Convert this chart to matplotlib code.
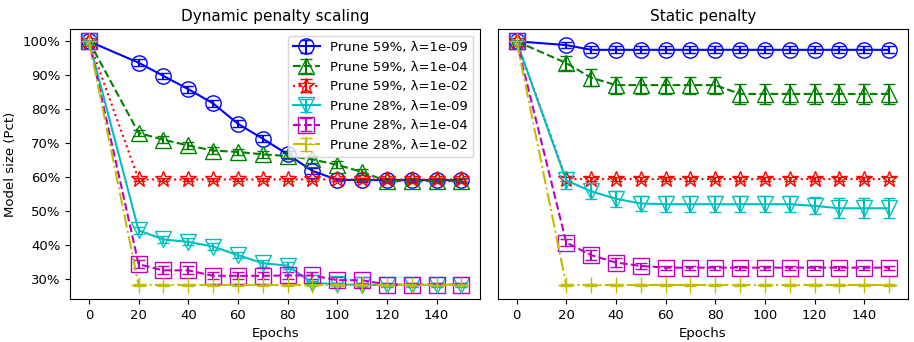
import numpy as np
import matplotlib
matplotlib.use("Agg")
import matplotlib.pyplot as plt
from matplotlib.ticker import PercentFormatter

epochs = [0, 20, 30, 40, 50, 60, 70, 80, 90, 100, 110, 120, 130, 140, 150]

labels = ["Prune 59%, λ=1e-09", "Prune 59%, λ=1e-04", "Prune 59%, λ=1e-02",
          "Prune 28%, λ=1e-09", "Prune 28%, λ=1e-04", "Prune 28%, λ=1e-02"]
colors = ["b", "g", "r", "c", "m", "y"]
markers = ["o", "^", "*", "v", "s", "+"]
styles = ["-", "--", ":", "-", "--", "-."]

# dynamic penalty scaling (left)
dyn_mean = [
    [100, 93.7, 89.8, 85.9, 81.7, 75.7, 71.3, 66.7, 61.8, 59.2, 59.1, 59.1, 59.1, 59.1, 59.1],
    [100, 73.0, 71.0, 69.3, 67.8, 67.4, 66.7, 66.2, 65.2, 63.6, 61.5, 58.8, 58.8, 58.8, 58.8],
    [100, 59.3, 59.3, 59.3, 59.3, 59.3, 59.3, 59.3, 59.3, 59.3, 59.3, 59.3, 59.3, 59.3, 59.3],
    [100, 44.3, 41.6, 40.9, 39.5, 37.0, 34.6, 33.9, 28.8, 28.4, 28.2, 28.2, 28.2, 28.2, 28.2],
    [100, 34.3, 32.5, 32.5, 30.9, 30.9, 30.9, 31.0, 31.0, 29.6, 29.6, 28.3, 28.3, 28.3, 28.3],
    [100, 28.2, 28.2, 28.2, 28.2, 28.2, 28.2, 28.2, 28.2, 28.2, 28.2, 28.2, 28.2, 28.2, 28.2],
]
dyn_err = [
    [0, 1.0, 1.0, 1.0, 1.0, 1.0, 1.0, 1.0, 1.0, 0.5, 0.5, 0.5, 0.5, 0.5, 0.5],
    [0, 1.0, 1.0, 1.0, 1.0, 1.0, 1.0, 1.0, 1.0, 1.0, 1.0, 0.5, 0.5, 0.5, 0.5],
    [0, 0.5, 0.5, 0.5, 0.5, 0.5, 0.5, 0.5, 0.5, 0.5, 0.5, 0.5, 0.5, 0.5, 0.5],
    [0, 1.0, 1.0, 1.0, 1.0, 1.0, 1.0, 1.0, 0.5, 0.5, 0.5, 0.5, 0.5, 0.5, 0.5],
    [0, 1.2, 1.2, 1.2, 1.0, 1.0, 1.0, 1.0, 1.0, 0.8, 0.8, 0.5, 0.5, 0.5, 0.5],
    [0, 0.3, 0.3, 0.3, 0.3, 0.3, 0.3, 0.3, 0.3, 0.3, 0.3, 0.3, 0.3, 0.3, 0.3],
]

# static penalty (right)
sta_mean = [
    [100, 98.9, 97.5, 97.5, 97.5, 97.5, 97.5, 97.5, 97.5, 97.5, 97.5, 97.5, 97.5, 97.5, 97.5],
    [100, 93.6, 89.3, 87.1, 87.1, 87.1, 87.1, 87.1, 84.5, 84.5, 84.5, 84.5, 84.5, 84.5, 84.5],
    [100, 59.4, 59.4, 59.4, 59.4, 59.4, 59.4, 59.4, 59.4, 59.4, 59.4, 59.4, 59.4, 59.4, 59.4],
    [100, 59.0, 55.8, 53.6, 52.2, 52.0, 52.0, 52.0, 52.0, 52.0, 52.0, 51.5, 50.8, 50.8, 50.8],
    [100, 40.7, 37.0, 34.8, 33.8, 33.3, 33.3, 33.3, 33.3, 33.3, 33.3, 33.3, 33.3, 33.3, 33.3],
    [100, 28.2, 28.2, 28.2, 28.2, 28.2, 28.2, 28.2, 28.2, 28.2, 28.2, 28.2, 28.2, 28.2, 28.2],
]
sta_err = [
    [0, 1.0, 1.0, 1.0, 1.0, 1.0, 1.0, 1.0, 1.0, 1.0, 1.0, 1.0, 1.0, 1.0, 1.0],
    [0, 2.0, 2.5, 2.5, 2.5, 2.5, 2.5, 2.5, 3.0, 3.0, 3.0, 3.0, 3.0, 3.0, 3.0],
    [0, 0.5, 0.5, 0.5, 0.5, 0.5, 0.5, 0.5, 0.5, 0.5, 0.5, 0.5, 0.5, 0.5, 0.5],
    [0, 2.5, 2.3, 2.3, 2.3, 2.3, 2.3, 2.3, 2.3, 2.3, 2.3, 2.5, 2.9, 2.9, 2.9],
    [0, 1.0, 1.5, 1.2, 1.0, 0.6, 0.6, 0.6, 0.6, 0.6, 0.6, 0.6, 0.6, 0.6, 0.6],
    [0, 0.3, 0.3, 0.3, 0.3, 0.3, 0.3, 0.3, 0.3, 0.3, 0.3, 0.3, 0.3, 0.3, 0.3],
]

plt.rcParams['font.size'] = 9.5

fig, (ax1, ax2) = plt.subplots(1, 2, figsize=(9.14, 3.42), dpi=100, sharey=True)
fig.subplots_adjust(left=0.077, right=0.993, bottom=0.126, top=0.915, wspace=0.044)

for ax, means, errs in [(ax1, dyn_mean, dyn_err), (ax2, sta_mean, sta_err)]:
    for i in range(len(labels)):
        ax.errorbar(epochs, means[i], yerr=errs[i], color=colors[i], marker=markers[i],
                    linestyle=styles[i], markersize=12 if markers[i] == "*" else 11,
                    mfc='none', mew=1.0, lw=1.5, capsize=4, label=labels[i])

ax1.set_title("Dynamic penalty scaling", fontsize=11)
ax2.set_title("Static penalty", fontsize=11)
ax1.set_ylabel("Model size (Pct)")
ax1.set_xlabel("Epochs")
ax2.set_xlabel("Epochs")
ax1.yaxis.set_major_formatter(PercentFormatter(decimals=0))
ax1.set_xticks(np.arange(0, 160, 20))
ax2.set_xticks(np.arange(0, 160, 20))
ax2.tick_params(left=False, labelleft=False)
ax1.legend(loc="upper right", fontsize=9.5)

plt.savefig("out.png", dpi=100)
